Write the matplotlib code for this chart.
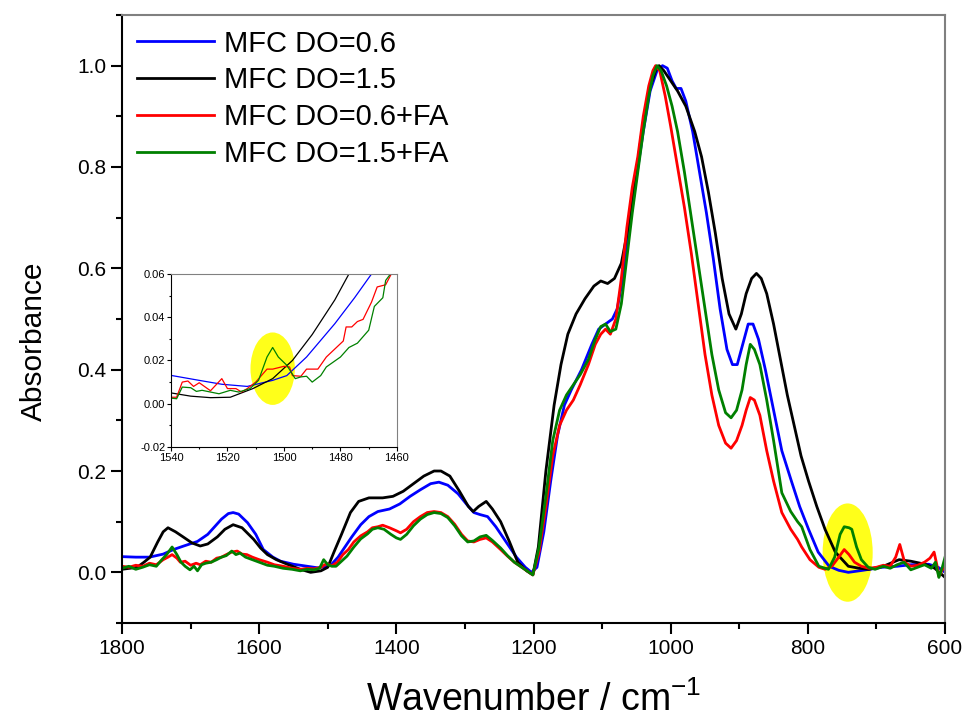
import matplotlib
matplotlib.use("Agg")
import matplotlib.pyplot as plt
from matplotlib.patches import Ellipse
from matplotlib.ticker import MultipleLocator

plt.rcParams["font.family"] = ["Liberation Sans", "DejaVu Sans"]
plt.rcParams["mathtext.fontset"] = "custom"
plt.rcParams["mathtext.rm"] = "Liberation Sans"

# ---- main spectra (wavenumber / absorbance) ----
wn_blue = [1800, 1780, 1760, 1740, 1725, 1710, 1690, 1675, 1665, 1655, 1645, 1638, 1630, 1617, 1605, 1594,
           1580, 1569, 1550, 1530, 1515, 1504, 1495, 1485, 1475, 1465, 1452, 1440, 1427, 1410, 1395, 1380,
           1365, 1350, 1338, 1325, 1310, 1298, 1287, 1278, 1267, 1255, 1240, 1225, 1212, 1203, 1195, 1185,
           1175, 1165, 1155, 1145, 1130, 1115, 1105, 1095, 1085, 1078, 1070, 1060, 1050, 1040, 1030, 1020,
           1012, 1005, 998, 992, 985, 978, 968, 958, 948, 938, 928, 918, 910, 903, 895, 887, 880, 872, 862,
           850, 838, 824, 812, 799, 785, 769, 755, 741, 720, 692, 670, 650, 624, 610, 600]
abs_blue = [0.031, 0.030, 0.030, 0.036, 0.045, 0.052, 0.061, 0.075, 0.090, 0.105, 0.116, 0.118, 0.115, 0.098,
            0.075, 0.045, 0.030, 0.022, 0.016, 0.012, 0.009, 0.011, 0.015, 0.030, 0.050, 0.070, 0.094, 0.110,
            0.120, 0.125, 0.135, 0.150, 0.163, 0.175, 0.178, 0.172, 0.155, 0.135, 0.118, 0.114, 0.110, 0.090,
            0.060, 0.030, 0.010, 0.000, 0.010, 0.080, 0.180, 0.270, 0.330, 0.360, 0.400, 0.450, 0.480, 0.490,
            0.500, 0.520, 0.580, 0.680, 0.780, 0.870, 0.950, 0.990, 1.000, 0.995, 0.970, 0.955, 0.955, 0.930,
            0.870, 0.790, 0.710, 0.620, 0.520, 0.440, 0.410, 0.410, 0.450, 0.490, 0.490, 0.460, 0.400, 0.320,
            0.240, 0.180, 0.130, 0.085, 0.040, 0.012, 0.004, 0.000, 0.004, 0.010, 0.012, 0.015, 0.016, 0.010,
            0.000]

wn_black = [1800, 1778, 1768, 1759, 1748, 1740, 1733, 1722, 1711, 1698, 1686, 1675, 1661, 1650, 1638, 1625,
            1608, 1598, 1588, 1575, 1559, 1540, 1525, 1510, 1500, 1491, 1480, 1467, 1455, 1440, 1420, 1405,
            1390, 1375, 1360, 1345, 1335, 1322, 1308, 1295, 1288, 1280, 1269, 1260, 1248, 1235, 1223, 1210,
            1201, 1193, 1182, 1170, 1160, 1150, 1138, 1125, 1112, 1102, 1092, 1082, 1072, 1062, 1052, 1042,
            1032, 1022, 1017, 1010, 1000, 990, 978, 965, 955, 945, 935, 925, 915, 905, 897, 890, 882, 875,
            868, 860, 850, 840, 830, 820, 810, 799, 787, 775, 760, 741, 725, 711, 690, 667, 650, 629, 615, 600]
abs_black = [0.006, 0.010, 0.020, 0.030, 0.060, 0.080, 0.088, 0.080, 0.070, 0.058, 0.052, 0.056, 0.070, 0.085,
             0.094, 0.088, 0.065, 0.048, 0.035, 0.025, 0.016, 0.006, 0.000, 0.003, 0.010, 0.040, 0.075, 0.118,
             0.140, 0.147, 0.147, 0.150, 0.160, 0.175, 0.190, 0.200, 0.200, 0.190, 0.160, 0.130, 0.120, 0.130,
             0.140, 0.125, 0.100, 0.060, 0.020, 0.003, -0.005, 0.050, 0.200, 0.330, 0.410, 0.470, 0.510, 0.540,
             0.565, 0.575, 0.570, 0.580, 0.610, 0.680, 0.770, 0.870, 0.950, 0.990, 1.000, 0.990, 0.970, 0.950,
             0.920, 0.870, 0.820, 0.750, 0.670, 0.580, 0.510, 0.480, 0.510, 0.550, 0.580, 0.590, 0.580, 0.550,
             0.490, 0.420, 0.350, 0.290, 0.230, 0.180, 0.130, 0.085, 0.040, 0.012, 0.008, 0.006, 0.012, 0.025,
             0.022, 0.016, 0.008, -0.010]

wn_red = [1800, 1790, 1780, 1770, 1760, 1750, 1740, 1733, 1727, 1720, 1715, 1708, 1700, 1692, 1686, 1678, 1670,
          1662, 1655, 1648, 1640, 1632, 1625, 1618, 1610, 1600, 1588, 1578, 1565, 1552, 1540, 1530, 1520, 1510,
          1502, 1494, 1486, 1478, 1470, 1462, 1452, 1442, 1435, 1427, 1420, 1410, 1400, 1394, 1385, 1375, 1365,
          1355, 1345, 1335, 1325, 1315, 1305, 1296, 1287, 1278, 1269, 1260, 1248, 1238, 1228, 1215, 1201, 1192,
          1182, 1172, 1162, 1152, 1142, 1132, 1120, 1110, 1102, 1095, 1088, 1080, 1072, 1064, 1056, 1048, 1040,
          1032, 1026, 1022, 1016, 1008, 1000, 990, 980, 970, 960, 950, 940, 930, 920, 912, 904, 896, 890, 884,
          878, 870, 860, 850, 838, 825, 815, 809, 797, 784, 775, 765, 755, 747, 740, 732, 722, 711, 700, 690,
          680, 672, 666, 659, 650, 640, 630, 622, 616, 612, 609, 604, 600]
abs_red = [0.012, 0.010, 0.014, 0.012, 0.018, 0.015, 0.025, 0.030, 0.035, 0.028, 0.020, 0.022, 0.014, 0.018,
           0.015, 0.022, 0.020, 0.028, 0.030, 0.035, 0.040, 0.042, 0.036, 0.035, 0.030, 0.025, 0.020, 0.015,
           0.012, 0.008, 0.006, 0.008, 0.007, 0.010, 0.017, 0.013, 0.020, 0.035, 0.045, 0.060, 0.072, 0.080,
           0.088, 0.090, 0.093, 0.088, 0.082, 0.078, 0.085, 0.100, 0.110, 0.118, 0.120, 0.118, 0.110, 0.095,
           0.075, 0.062, 0.060, 0.065, 0.068, 0.060, 0.045, 0.032, 0.020, 0.008, -0.005, 0.040, 0.130, 0.230,
           0.290, 0.320, 0.340, 0.370, 0.410, 0.450, 0.470, 0.480, 0.470, 0.500, 0.580, 0.680, 0.760, 0.820,
           0.900, 0.960, 0.990, 1.000, 0.990, 0.940, 0.880, 0.800, 0.720, 0.630, 0.530, 0.430, 0.350, 0.290,
           0.255, 0.245, 0.260, 0.290, 0.320, 0.345, 0.340, 0.310, 0.240, 0.180, 0.118, 0.085, 0.065, 0.050,
           0.025, 0.010, 0.006, 0.012, 0.030, 0.045, 0.035, 0.020, 0.012, 0.008, 0.010, 0.014, 0.012, 0.030,
           0.055, 0.020, 0.012, 0.014, 0.020, 0.028, 0.040, 0.015, -0.008, 0.005, 0.010]

wn_green = [1800, 1790, 1780, 1770, 1760, 1750, 1742, 1735, 1727, 1720, 1714, 1708, 1701, 1695, 1690, 1684,
            1678, 1670, 1662, 1655, 1648, 1640, 1634, 1628, 1620, 1610, 1600, 1588, 1578, 1565, 1552, 1540,
            1530, 1520, 1512, 1506, 1500, 1494, 1488, 1480, 1472, 1462, 1452, 1442, 1435, 1427, 1418, 1408,
            1400, 1394, 1385, 1375, 1365, 1355, 1345, 1335, 1325, 1315, 1305, 1296, 1287, 1278, 1269, 1260,
            1248, 1238, 1228, 1215, 1201, 1192, 1182, 1172, 1162, 1152, 1142, 1132, 1120, 1110, 1102, 1095,
            1088, 1080, 1072, 1064, 1056, 1048, 1040, 1032, 1026, 1020, 1014, 1006, 998, 990, 980, 970, 960,
            950, 940, 930, 920, 912, 904, 896, 890, 884, 878, 870, 860, 850, 838, 825, 815, 809, 797, 784, 770,
            761, 753, 747, 740, 736, 729, 722, 712, 702, 690, 680, 670, 660, 650, 640, 630, 620, 614, 609, 604,
            600]
abs_green = [0.008, 0.012, 0.006, 0.010, 0.015, 0.012, 0.025, 0.035, 0.050, 0.035, 0.020, 0.012, 0.005, 0.012,
             0.003, 0.015, 0.018, 0.020, 0.025, 0.030, 0.033, 0.042, 0.035, 0.038, 0.030, 0.025, 0.020, 0.014,
             0.012, 0.008, 0.006, 0.003, 0.006, 0.005, 0.008, 0.025, 0.015, 0.012, 0.012, 0.022, 0.032, 0.050,
             0.066, 0.076, 0.085, 0.088, 0.085, 0.075, 0.068, 0.065, 0.075, 0.092, 0.105, 0.114, 0.118, 0.116,
             0.108, 0.092, 0.072, 0.060, 0.062, 0.070, 0.073, 0.063, 0.048, 0.033, 0.020, 0.008, -0.005, 0.050,
             0.150, 0.260, 0.320, 0.350, 0.370, 0.390, 0.420, 0.460, 0.485, 0.490, 0.475, 0.480, 0.530, 0.620,
             0.710, 0.790, 0.870, 0.940, 0.980, 1.000, 0.990, 0.960, 0.920, 0.870, 0.790, 0.700, 0.610, 0.520,
             0.430, 0.360, 0.315, 0.305, 0.320, 0.360, 0.410, 0.450, 0.440, 0.410, 0.340, 0.260, 0.157, 0.120,
             0.100, 0.090, 0.045, 0.012, 0.006, 0.030, 0.075, 0.090, 0.088, 0.085, 0.050, 0.025, 0.010, 0.006,
             0.012, 0.008, 0.015, 0.020, 0.005, 0.010, 0.015, 0.008, 0.020, -0.010, 0.010, 0.030]

# ---- inset (1540-1460 cm-1) ----
in_wn_blue = [1540, 1530, 1522, 1513, 1504, 1499, 1492, 1482, 1475, 1469, 1465]
in_abs_blue = [0.0131, 0.0108, 0.0090, 0.0080, 0.0108, 0.0130, 0.0216, 0.0370, 0.0490, 0.0600, 0.068]
in_wn_black = [1540, 1533, 1526, 1519, 1511, 1504, 1497, 1490, 1482, 1477, 1474]
in_abs_black = [0.0050, 0.0035, 0.0028, 0.0030, 0.0070, 0.0116, 0.0200, 0.0320, 0.0480, 0.0600, 0.067]
in_wn_red = [1540, 1538, 1536, 1534, 1532, 1530, 1526, 1522, 1520, 1517, 1515, 1513, 1510, 1506, 1504, 1500,
             1498, 1497, 1494, 1492, 1488, 1485, 1479, 1478, 1476, 1474, 1472, 1469, 1467, 1464, 1462, 1460]
in_abs_red = [0.0030, 0.0030, 0.0100, 0.0105, 0.0080, 0.0097, 0.0060, 0.0116, 0.0070, 0.0070, 0.0054, 0.0070,
              0.0100, 0.0160, 0.0160, 0.0173, 0.0170, 0.0130, 0.0127, 0.0160, 0.0160, 0.0216, 0.0290, 0.0355,
              0.0355, 0.0380, 0.0390, 0.0470, 0.0540, 0.0550, 0.0600, 0.064]
in_wn_green = [1540, 1538, 1536, 1533, 1531, 1529, 1526, 1523, 1519, 1516, 1512, 1509, 1506, 1504, 1502, 1499,
               1496, 1494, 1492, 1490, 1487, 1485, 1480, 1477, 1474, 1470, 1468, 1465, 1464, 1460]
in_abs_green = [0.0026, 0.0023, 0.0077, 0.0074, 0.0057, 0.0062, 0.0054, 0.0046, 0.0062, 0.0054, 0.0070, 0.0108,
                0.0216, 0.0260, 0.0216, 0.0178, 0.0116, 0.0124, 0.0127, 0.0100, 0.0130, 0.0170, 0.0216, 0.0260,
                0.0280, 0.0340, 0.0450, 0.0490, 0.0570, 0.064]

labels = ["MFC DO=0.6", "MFC DO=1.5", "MFC DO=0.6+FA", "MFC DO=1.5+FA"]
colors = ["#0000ff", "#000000", "#ff0000", "#008000"]


def style_axes(ax, width, major, minor, size):
    ax.spines["left"].set_color("black")
    ax.spines["bottom"].set_color("black")
    ax.spines["top"].set_color("#808080")
    ax.spines["right"].set_color("#808080")
    for s in ax.spines.values():
        s.set_linewidth(width)
    ax.tick_params(which="both", direction="out", top=False, right=False, width=width, labelsize=size)
    ax.tick_params(which="major", length=major)
    ax.tick_params(which="minor", length=minor)


fig = plt.figure(figsize=(9.67, 7.2), dpi=100)
ax = fig.add_axes([0.1262, 0.1347, 0.8511, 0.8445])

ax.add_patch(Ellipse((742, 0.039), 73, 0.194, facecolor="#ffff1a", edgecolor="none", zorder=1))
data = [(wn_blue, abs_blue), (wn_black, abs_black), (wn_red, abs_red), (wn_green, abs_green)]
for (x, y), c, lab in zip(data, colors, labels):
    ax.plot(x, y, color=c, lw=2.0, label=lab, zorder=2)

ax.set_xlim(1800, 600)
ax.set_ylim(-0.1, 1.1)
ax.xaxis.set_major_locator(MultipleLocator(200))
ax.xaxis.set_minor_locator(MultipleLocator(100))
ax.yaxis.set_major_locator(MultipleLocator(0.2))
ax.yaxis.set_minor_locator(MultipleLocator(0.1))
ax.set_yticks([0.0, 0.2, 0.4, 0.6, 0.8, 1.0])
ax.set_yticklabels(["0.0", "0.2", "0.4", "0.6", "0.8", "1.0"])
style_axes(ax, 1.5, 8, 4.5, 15)
ax.set_xlabel("Wavenumber / cm$^{-1}$", fontsize=27, labelpad=17)
ax.set_ylabel("Absorbance", fontsize=21.5, labelpad=21)
ax.yaxis.label.set_y(0.464)

ax.legend(loc="upper left", bbox_to_anchor=(0.0, 1.0), frameon=False, fontsize=21,
          handlelength=2.65, handletextpad=0.35, labelspacing=0.3, borderaxespad=0.1)

# inset
axi = fig.add_axes([0.1768, 0.3792, 0.2337, 0.2403])
axi.add_patch(Ellipse((1504, 0.0162), 15.7, 0.0335, facecolor="#ffff1a", edgecolor="none", zorder=1))
in_data = [(in_wn_blue, in_abs_blue), (in_wn_black, in_abs_black), (in_wn_red, in_abs_red),
           (in_wn_green, in_abs_green)]
for (x, y), c in zip(in_data, colors):
    axi.plot(x, y, color=c, lw=0.9, zorder=2)
axi.set_xlim(1540, 1460)
axi.set_ylim(-0.02, 0.06)
axi.xaxis.set_major_locator(MultipleLocator(20))
axi.xaxis.set_minor_locator(MultipleLocator(10))
axi.yaxis.set_major_locator(MultipleLocator(0.02))
axi.yaxis.set_minor_locator(MultipleLocator(0.01))
axi.set_yticks([-0.02, 0.0, 0.02, 0.04, 0.06])
axi.set_yticklabels(["-0.02", "0.00", "0.02", "0.04", "0.06"])
style_axes(axi, 0.8, 3, 1.5, 8)
axi.tick_params(pad=1)

fig.savefig("out.png", dpi=100)
